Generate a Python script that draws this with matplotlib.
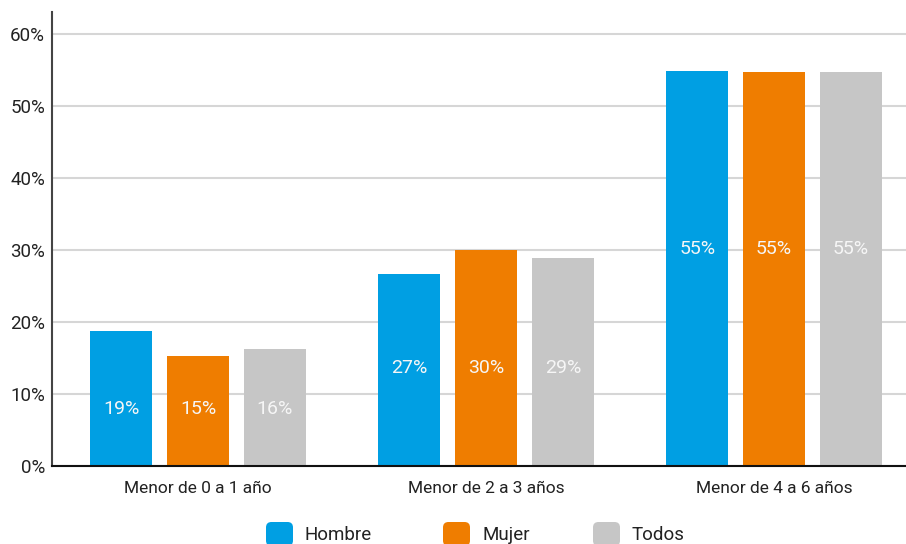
import matplotlib
matplotlib.use("Agg")
import numpy as np
import matplotlib.pyplot as plt
from matplotlib.patches import FancyBboxPatch

plt.rcParams['font.family'] = ['Roboto', 'DejaVu Sans']

# Datos
categorias = ["Menor de 0 a 1 año", "Menor de 2 a 3 años", "Menor de 4 a 6 años"]
series = ["Hombre", "Mujer", "Todos"]
hombre = [18.7, 26.7, 54.8]
mujer = [15.3, 30.0, 54.7]
todos = [16.3, 28.9, 54.7]
etiquetas_y = [0, 10, 20, 30, 40, 50, 60]

colores = ["#009FE3", "#EF7D00", "#C6C6C6"]
valores = [hombre, mujer, todos]

# altura (en %) donde se escriben las etiquetas de cada grupo
altura_texto = [7.9, 13.6, 30.1]

fig = plt.figure(figsize=(9.06, 5.44), dpi=100)
ax = fig.add_axes([52/906, 1 - 466/544, 854/906, 454/544])

x = np.arange(len(categorias))
ancho = 0.215
paso = 0.267

for i, (nombre, vals, col) in enumerate(zip(series, valores, colores)):
    pos = x + (i - 1) * paso
    ax.bar(pos, vals, width=ancho, color=col, zorder=3)
    for xp, v, yt in zip(pos, vals, altura_texto):
        ax.text(xp, yt, f"{v:.0f}%", ha="center", va="center",
                color="#f6f6f6", fontsize=14, zorder=4)

ax.set_xlim(-0.507, 2.458)
ax.set_ylim(0, 63)
ax.set_xticks(x)
ax.set_xticklabels(categorias, fontsize=12.5, color="#222222")
ax.set_yticks(etiquetas_y)
ax.set_yticklabels([f"{v}%" for v in etiquetas_y], fontsize=13.5, color="#222222")
ax.tick_params(length=0, pad=5)
ax.tick_params(axis="x", pad=11)

ax.grid(axis="y", color="#d6d6d6", linewidth=1.5, zorder=0)
ax.set_axisbelow(True)
for s in ["top", "right"]:
    ax.spines[s].set_visible(False)
ax.spines["left"].set_color("#444444")
ax.spines["left"].set_linewidth(1.5)
ax.spines["bottom"].set_color("#111111")
ax.spines["bottom"].set_linewidth(1.5)
ax.spines["bottom"].set_zorder(5)

# Leyenda manual (cortada en el borde inferior)
leyenda_x = [266, 443, 593]
W, H = 906, 544
for nombre, col, lx in zip(series, colores, leyenda_x):
    p = FancyBboxPatch((lx / W, (H - 546) / H), 27 / W, 24 / H,
                       boxstyle="round,pad=0,rounding_size=0.006",
                       transform=fig.transFigure, facecolor=col,
                       edgecolor="none", mutation_aspect=W / H)
    fig.patches.append(p)
    fig.text((lx + 39) / W, (H - 535) / H, nombre, fontsize=13.5,
             color="#222222", va="center", ha="left")

fig.savefig("out.png", dpi=100)
